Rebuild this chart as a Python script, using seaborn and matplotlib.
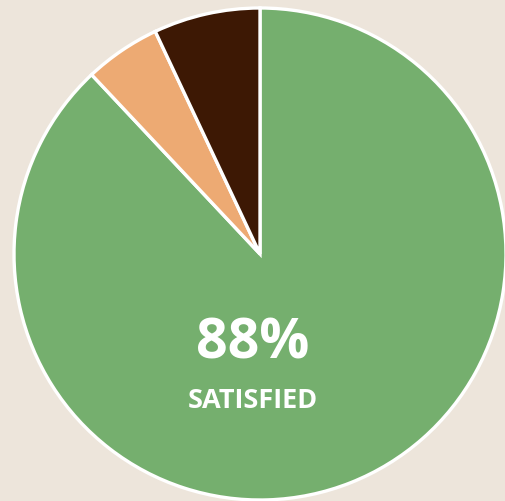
import matplotlib
matplotlib.use("Agg")
import matplotlib.pyplot as plt
import seaborn as sns

labels = ["Satisfied", "Neutral", "Dissatisfied"]
shares = [88, 5, 7]
colors = ["#75AF6E", "#EDAA73", "#3D1804"]

bg = "#EDE5DB"
sns.set_theme(style="white")
plt.rcParams["font.family"] = ["Open Sans", "DejaVu Sans"]

fig = plt.figure(figsize=(5.05, 5.01), dpi=100, facecolor=bg)
# pie centre ~ (260, 254) px, radius ~ 246 px
r = 246
ax = fig.add_axes([(260 - r) / 505, (501 - 254 - r) / 501, 2 * r / 505, 2 * r / 501])
ax.set_facecolor(bg)

ax.pie(shares, colors=colors, startangle=90, counterclock=False,
       wedgeprops=dict(edgecolor="white", linewidth=2.4))
ax.set_xlim(-1.0, 1.0)
ax.set_ylim(-1.0, 1.0)
ax.set_aspect("equal")
ax.axis("off")

fig.text(253 / 505, 1 - 344 / 501, f"{shares[0]}%", color="white",
         fontsize=40, fontweight="bold", ha="center", va="center")
fig.text(253 / 505, 1 - 401 / 501, "SATISFIED", color="white",
         fontsize=19.5, fontweight="bold", ha="center", va="center")

fig.savefig("out.png", dpi=100, facecolor=bg)
